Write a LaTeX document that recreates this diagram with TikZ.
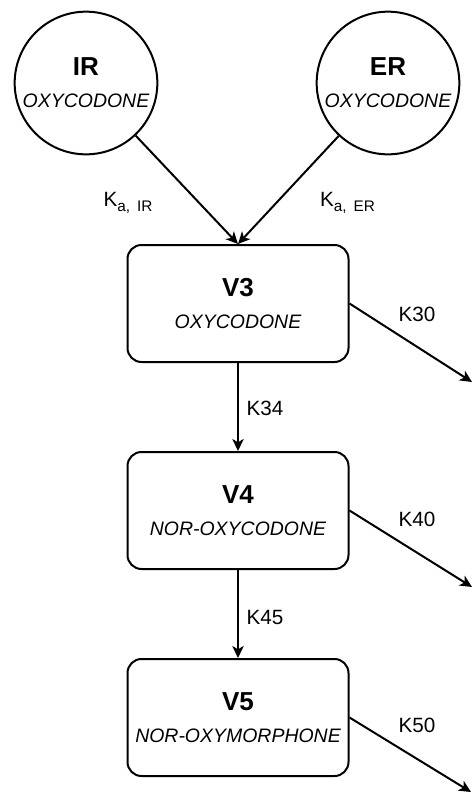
\documentclass[tikz,border=0pt]{standalone}
\usepackage{fontspec}
\setmainfont{Liberation Sans}
\usetikzlibrary{arrows.meta}
\newcommand{\cmpttl}[1]{{\fontsize{19.5}{24}\selectfont\bfseries\upshape #1}}
\newcommand{\ksub}[1]{\raisebox{-3.75pt}{\fontsize{11.5}{12}\selectfont #1}}
\tikzset{%
  >={Stealth[width=8.5pt,length=9pt,inset=2.5pt]},
  % Specifications for style of nodes:
         comp/.style = {draw=black, line width=1.5pt, align=center,
                        font=\fontsize{14.6}{24}\selectfont\itshape},
        depot/.style = {comp, circle, minimum size=107pt, inner sep=0pt},
      central/.style = {comp, rectangle, rounded corners=10.5pt,
                        minimum width=165.75pt, minimum height=87.75pt},
       klabel/.style = {inner sep=0pt, font=\fontsize{15.5}{18}\selectfont},
         flow/.style = {->, line width=1.5pt},
}

\begin{document}
\begin{tikzpicture}[x=0.75pt, y=-0.75pt, node distance=155.25pt]
  \useasboundingbox (0,0) rectangle (472,793);
  % Specification of nodes (position, etc.)
  \node (IR)  [depot] at (86,83)          {\cmpttl{IR}\\OXYCODONE};
  \node (ER)  [depot] at (388,83)         {\cmpttl{ER}\\OXYCODONE};
  \node (V3)  [central] at (238,303.5)    {\cmpttl{V3}\\OXYCODONE};
  \node (V4)  [central, below of=V3]      {\cmpttl{V4}\\NOR-OXYCODONE};
  \node (V5)  [central, below of=V4]      {\cmpttl{V5}\\NOR-OXYMORPHONE};
  % free ends of the elimination arrows
  \coordinate (out3) at (472,382);
  \coordinate (out4) at (472,587);
  \coordinate (out5) at (471,792);

  \draw[flow]        (IR) -- (V3.north);
  \draw[flow]        (ER) -- (V3.north);
  \draw[flow]        (V3) -- (V4);
  \draw[flow]        (V4) -- (V5);
  \draw[flow]   (V3.east) -- (out3);
  \draw[flow]   (V4.east) -- (out4);
  \draw[flow]   (V5.east) -- (out5);

  % rate constants
  \node (kaIR) [klabel] at (128,203)   {K\ksub{a,\hspace{0.45em}IR}};
  \node (kaER) [klabel] at (347.5,203) {K\ksub{a,\hspace{0.45em}ER}};
  \node (k34)  [klabel] at (265,408)   {K34};
  \node (k45)  [klabel] at (265,617)   {K45};
  \node (k30)  [klabel] at (417,314)   {K30};
  \node (k40)  [klabel] at (417,519)   {K40};
  \node (k50)  [klabel] at (417,725)   {K50};
\end{tikzpicture}
\end{document}
